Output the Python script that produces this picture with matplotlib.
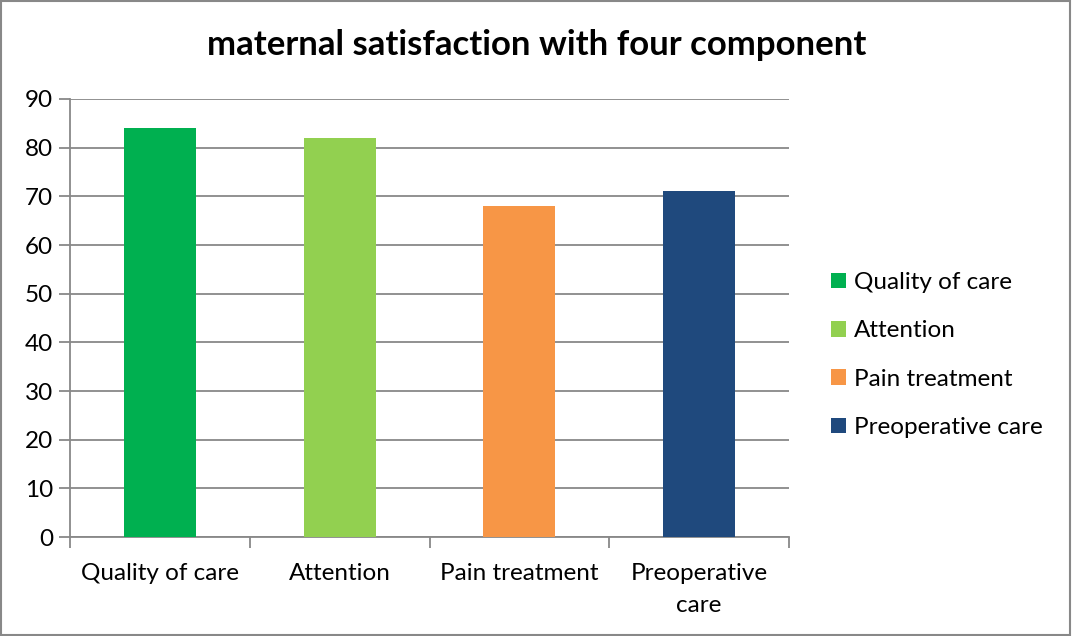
import numpy as np
import matplotlib.pyplot as plt
from matplotlib.patches import Rectangle

plt.rcParams['font.family'] = ['Lato', 'DejaVu Sans']

categories = ['Quality of care', 'Attention', 'Pain treatment', 'Preoperative care']
tick_labels = ['Quality of care', 'Attention', 'Pain treatment', 'Preoperative\ncare']
values = [84, 82, 68, 71]
colors = ['#00B050', '#92D050', '#F79646', '#1F497D']

fig = plt.figure(figsize=(10.72, 6.36), dpi=100)
ax = fig.add_axes([70 / 1072, 1 - 537 / 636, (789 - 70) / 1072, (537 - 99) / 636])

x = np.arange(len(categories))
for i in range(len(categories)):
    ax.bar(x[i], values[i], width=0.4, color=colors[i], label=categories[i], zorder=3)

ax.set_xlim(-0.5, 3.5)
ax.set_ylim(0, 90)
ax.set_yticks(np.arange(0, 91, 10))
ax.grid(axis='y', color='#888888', linewidth=1.3, zorder=0)

for s in ['top', 'right']:
    ax.spines[s].set_visible(False)
for s in ['left', 'bottom']:
    ax.spines[s].set_color('#888888')
    ax.spines[s].set_linewidth(1.3)

# category labels centred, ticks on the boundaries
ax.set_xticks(x)
ax.set_xticklabels(tick_labels, fontsize=17.5, linespacing=1.6)
ax.tick_params(axis='x', length=0, pad=19)
ax.set_xticks(np.arange(-0.5, 4, 1), minor=True)
ax.tick_params(axis='x', which='minor', length=8, color='#888888', width=1.3)
ax.tick_params(axis='y', length=8, color='#888888', width=1.3, labelsize=17.5, pad=4)

fig.text(537 / 1072, 1 - 45 / 636, 'maternal satisfaction with four component',
         ha='center', va='center', fontsize=25, fontweight='bold')

fig.legend(loc='center left', bbox_to_anchor=(831 / 1072, 1 - 355 / 636),
           frameon=False, fontsize=17.5, handlelength=0.6, handleheight=0.6,
           handletextpad=0.35, labelspacing=1.12, borderpad=0, borderaxespad=0)

fig.patches.append(Rectangle((0.001, 0.002), 0.997, 0.996, transform=fig.transFigure,
                             fill=False, edgecolor='#888888', linewidth=1.5))

fig.savefig('out.png', dpi=100)
